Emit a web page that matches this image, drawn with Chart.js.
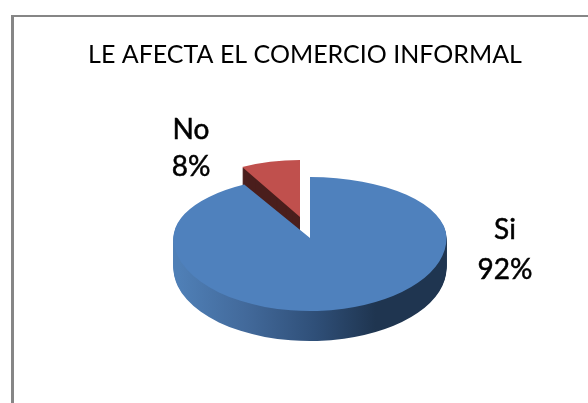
<!DOCTYPE html>
<html>
<head>
<meta charset="utf-8">
<style>
html,body{margin:0;padding:0;background:#fff;overflow:hidden}
#frame{position:absolute;left:11px;top:15px;right:0;bottom:0;border-top:2px solid #868686;border-left:3px solid #868686}
canvas{position:absolute;left:0;top:0}
</style>
<script src="https://cdn.jsdelivr.net/npm/chart.js@4"></script>
</head>
<body>
<div id="frame"></div>
<canvas id="c" width="588" height="403"></canvas>
<script>
const categories = ["Si", "No"];
const values = [92, 8];
const titleText = "LE AFECTA EL COMERCIO INFORMAL";
const sliceColors = ["#4f81bd", "#c0504d"];
const sideColor = "#4a1e1c";

function arcPass(ctx, arc, fill, tx, ty, sx, sy) {
  const saved = arc.options;
  arc.options = Object.assign({}, saved, {backgroundColor: fill, borderWidth: 0});
  ctx.save();
  ctx.translate(tx, ty);
  ctx.scale(sx, sy);
  ctx.translate(-arc.x, -arc.y);
  arc.draw(ctx);
  ctx.restore();
  arc.options = saved;
}

// top face is foreshortened more behind the centre than in front of it
function bluePass(ctx, arc, fill, dy) {
  const cx = 310, cy = 238 + dy, R = arc.outerRadius;
  ctx.save();
  ctx.beginPath(); ctx.rect(0, 0, 588, cy); ctx.clip();
  arcPass(ctx, arc, fill, cx, cy, 1, 61 / R);
  ctx.restore();
  ctx.save();
  ctx.beginPath(); ctx.rect(0, cy, 588, 403 - cy); ctx.clip();
  arcPass(ctx, arc, fill, cx, cy, 1, 73 / R);
  ctx.restore();
}

const pie3d = {
  id: "pie3d",
  beforeDatasetsDraw(chart) {
    const ctx = chart.ctx;
    const [blue, red] = chart.getDatasetMeta(0).data;
    const R = blue.outerRadius;
    // exploded slice
    for (let d = 25; d >= 1; d--) arcPass(ctx, red, sideColor, 300, 217 + d, 120 / R, 57 / R);
    arcPass(ctx, red, sliceColors[1], 300, 217, 120 / R, 57 / R);
    // main slice wall
    const g = ctx.createLinearGradient(174, 0, 447, 0);
    g.addColorStop(0, "#4f7fb6");
    g.addColorStop(0.25, "#42699a");
    g.addColorStop(0.5, "#2f4f78");
    g.addColorStop(0.72, "#1f3550");
    g.addColorStop(1, "#1f3550");
    for (let d = 30; d >= 1; d--) bluePass(ctx, blue, g, d);
    bluePass(ctx, blue, sliceColors[0], 0);
    return false;
  },
  afterDraw(chart) {
    const ctx = chart.ctx;
    const spots = [[505, 230, 270], [191, 130, 167]];
    ctx.save();
    ctx.font = "28px Lato";
    ctx.fillStyle = "#000";
    ctx.strokeStyle = "#000";
    ctx.lineWidth = 0.5;
    ctx.textAlign = "center";
    ctx.textBaseline = "middle";
    categories.forEach((name, i) => {
      ctx.fillText(name, spots[i][0], spots[i][1]);
      ctx.strokeText(name, spots[i][0], spots[i][1]);
      ctx.fillText(values[i] + "%", spots[i][0], spots[i][2]);
      ctx.strokeText(values[i] + "%", spots[i][0], spots[i][2]);
    });
    ctx.restore();
  }
};

new Chart(document.getElementById("c"), {
  type: "pie",
  data: {labels: categories, datasets: [{data: values, backgroundColor: sliceColors, borderWidth: 0, radius: 136.5}]},
  options: {
    responsive: false,
    animation: false,
    layout: {padding: {left: 22, right: 0, top: 0, bottom: 0}},
    plugins: {
      legend: {display: false},
      tooltip: {enabled: false},
      title: {
        display: true,
        text: titleText,
        color: "#000",
        align: "center",
        font: {family: "Lato", size: 25, weight: "normal"},
        padding: {top: 40, bottom: 0}
      }
    }
  },
  plugins: [pie3d]
});
</script>
</body>
</html>
